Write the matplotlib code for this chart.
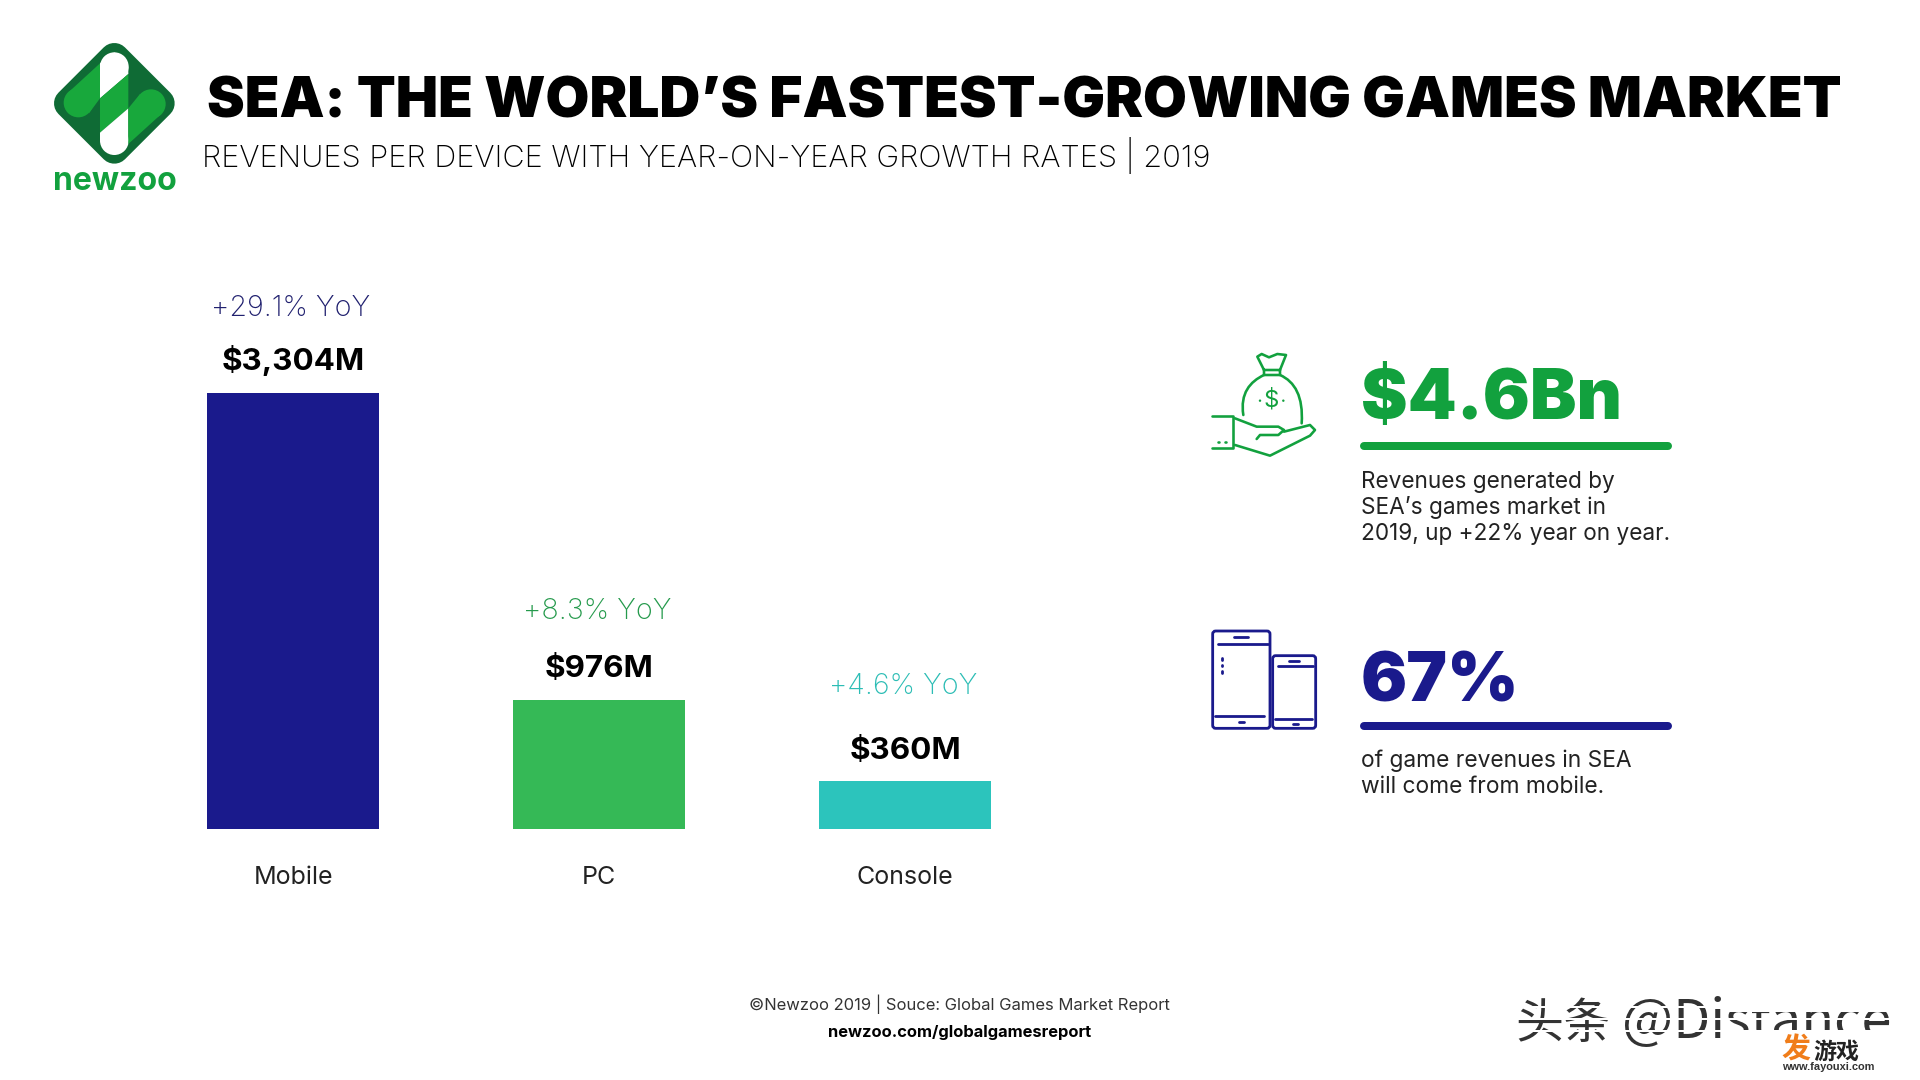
import numpy as np
import matplotlib
matplotlib.use("Agg")
import matplotlib.pyplot as plt
from matplotlib.patches import Polygon, Circle, FancyBboxPatch, PathPatch, Rectangle
from matplotlib.path import Path

categories = ["Mobile", "PC", "Console"]
revenues = [3304, 976, 360]
revenue_labels = ["$3,304M", "$976M", "$360M"]
yoy_labels = ["+29.1% YoY", "+8.3% YoY", "+4.6% YoY"]

NAVY = "#1a1a8c"
GREEN = "#35b956"
TEAL = "#2cc4bc"
BRIGHT = "#12a13e"
FONT = "Inter"
BAR_COLORS = [NAVY, GREEN, TEAL]
YOY_COLORS = ["#20206f", "#259a4c", "#2cbdb5"]
YOY_GAPS = [85, 89, 95]
VALUE_GAPS = [33, 31, 30]

W, H = 1920, 1080
plt.rcParams["font.family"] = [FONT, "DejaVu Sans"]
fig = plt.figure(figsize=(W / 100, H / 100), dpi=100, facecolor="white")

# pixel canvas for everything that is not the bars
canvas = fig.add_axes([0, 0, 1, 1])
canvas.set_xlim(0, W)
canvas.set_ylim(H, 0)
canvas.axis("off")


def fs(px):
    return px * 0.72


def put(x, y, s, size, weight="normal", color="black", ha="left", va="baseline", **kw):
    return canvas.text(x, y, s, fontsize=fs(size), fontweight=weight, color=color, ha=ha, va=va, **kw)


# --- bars ---
left, right, top, bottom = 100, 1120, 393, 829
ax = fig.add_axes([left / W, 1 - bottom / H, (right - left) / W, (bottom - top) / H])
ax.patch.set_alpha(0)
x = np.arange(len(categories))
bars = ax.bar(x, revenues, width=0.565, color=BAR_COLORS)
ax.set_xlim((left - 293) / 306, (right - 293) / 306)
ax.set_ylim(0, max(revenues))
for s in ax.spines.values():
    s.set_visible(False)
ax.set_yticks([])
ax.set_xticks(x, categories, fontsize=fs(25))
ax.tick_params(axis="x", length=0, pad=27, colors="#222222")
for i, bar in enumerate(bars):
    ax.annotate(revenue_labels[i], (bar.get_x() + bar.get_width() / 2, bar.get_height()),
                xytext=(0, VALUE_GAPS[i] * 0.72), textcoords="offset points", ha="center", va="center",
                fontsize=fs(31.4), fontweight="bold", color="black", annotation_clip=False)
    ax.annotate(yoy_labels[i], (bar.get_x() + bar.get_width() / 2, bar.get_height()),
                xytext=(-1.5, YOY_GAPS[i] * 0.72), textcoords="offset points", ha="center", va="center",
                fontsize=fs(28.6), fontweight="light", color=YOY_COLORS[i], annotation_clip=False)

# --- header ---
put(207, 117, "SEA: THE WORLD’S FASTEST-GROWING GAMES MARKET", 56.7, weight="black")
put(202, 167, "REVENUES PER DEVICE WITH YEAR-ON-YEAR GROWTH RATES | 2019", 30.7, weight="light", color="#000000")


def lz(pts):
    return [(a / 3, b / 3) for a, b in pts]


DARK = "#0f6b35"
LIGHT = "#18a83c"
canvas.add_patch(Polygon(lz([(343, 174), (479, 310), (343, 446), (207, 310)]), closed=True,
                         fc=DARK, ec=DARK, lw=21.6, joinstyle="round"))
canvas.add_patch(Polygon(lz([(300, 190), (204, 278), (267, 340), (300, 295)]), closed=True, fc=LIGHT, ec="none"))
canvas.add_patch(Circle((235 / 3, 308 / 3), 44 / 3, fc=LIGHT, ec="none"))
canvas.add_patch(Polygon(lz([(300, 190), (300, 295), (385, 222), (385, 200), (343, 157)]), closed=True, fc="white", ec="none"))
canvas.add_patch(Circle((343 / 3, 200 / 3), 43 / 3, fc="white", ec="none"))
canvas.add_patch(Polygon(lz([(300, 295), (385, 222), (385, 325), (300, 398)]), closed=True, fc=LIGHT, ec="none"))
canvas.add_patch(Polygon(lz([(385, 325), (300, 398), (300, 422), (343, 465), (385, 422)]), closed=True, fc="white", ec="none"))
canvas.add_patch(Circle((343 / 3, 422 / 3), 43 / 3, fc="white", ec="none"))
canvas.add_patch(Polygon(lz([(385, 325), (420, 282), (484, 342), (385, 432)]), closed=True, fc=LIGHT, ec="none"))
canvas.add_patch(Circle((453 / 3, 312 / 3), 44 / 3, fc=LIGHT, ec="none"))
put(53, 190, "newzoo", 32, weight="bold", color=BRIGHT)


def z(px, py):
    return (1200 + px / 3, 340 + py / 3)


def trace(pts, color, lw=2.6, closed=False):
    xy = np.array([z(a, b) for a, b in pts])
    if closed:
        xy = np.vstack([xy, xy[0]])
    canvas.plot(xy[:, 0], xy[:, 1], color=color, lw=lw * 0.72, solid_capstyle="round", solid_joinstyle="round")


def curve(pts, color, lw=2.6):
    verts = [z(a, b) for a, b in pts]
    codes = [Path.MOVETO] + [Path.CURVE4] * (len(verts) - 1)
    canvas.add_patch(PathPatch(Path(verts, codes), fc="none", ec=color, lw=lw * 0.72, capstyle="round"))


trace([(192, 90), (172, 50), (185, 42), (207, 52), (232, 42), (258, 45), (240, 90), (192, 90), (192, 105), (240, 105), (240, 90)], BRIGHT)
curve([(192, 105), (150, 125), (120, 160), (130, 225)], BRIGHT)
curve([(240, 105), (285, 125), (310, 170), (305, 250)], BRIGHT)
put(1271, 400, "$", 24, color=BRIGHT, ha="center", va="center")
for px in (180, 250):
    canvas.add_patch(Circle(z(px, 182), 1.2, fc=BRIGHT, ec="none"))
trace([(35, 227), (100, 227), (100, 325), (35, 325)], BRIGHT)
trace([(105, 235), (170, 260), (235, 260), (252, 270), (235, 285), (180, 285), (170, 297)], BRIGHT)
trace([(252, 275), (330, 255), (345, 270), (330, 287), (210, 347), (105, 315)], BRIGHT)
trace([(55, 305), (58, 305)], BRIGHT)
trace([(75, 305), (78, 305)], BRIGHT)

for x0, y0, x1, y1 in [(38, 873, 210, 1165), (218, 947, 347, 1165)]:
    a, b = z(x0, y0), z(x1, y1)
    canvas.add_patch(FancyBboxPatch(a, b[0] - a[0], b[1] - a[1], boxstyle="round,pad=0,rounding_size=3",
                                    fc="none", ec=NAVY, lw=2.8 * 0.72))
for seg in [[(55, 912), (205, 912)], [(45, 1127), (192, 1127)], [(103, 891), (145, 891)], [(116, 1147), (132, 1147)],
            [(235, 977), (340, 977)], [(225, 1136), (335, 1136)], [(268, 962), (298, 962)], [(279, 1152), (294, 1152)],
            [(67, 955), (67, 960)], [(67, 975), (67, 979)], [(67, 993), (67, 998)]]:
    trace(seg, NAVY, lw=2.8)

# --- right column text ---
put(1361, 419, "$4.6Bn", 70, weight="black", color=BRIGHT)
canvas.plot([1364, 1668], [446, 446], color=BRIGHT, lw=8 * 0.72, solid_capstyle="round")
for yy, line in zip([488, 514, 540], ["Revenues generated by", "SEA’s games market in", "2019, up +22% year on year."]):
    put(1361, yy, line, 22.6, color="#222222")
put(1361, 702, "67%", 68.5, weight="black", color=NAVY)
canvas.plot([1364, 1668], [726, 726], color=NAVY, lw=8 * 0.72, solid_capstyle="round")
for yy, line in zip([767, 793], ["of game revenues in SEA", "will come from mobile."]):
    put(1361, yy, line, 22.8, color="#222222")

# --- footer ---
put(959, 1004, "©Newzoo 2019 | Souce: Global Games Market Report", 16.6, color="#333333", ha="center", va="center")
put(960, 1032, "newzoo.com/globalgamesreport", 16.5, weight="bold", ha="center", va="center")

# --- watermark, the source has it sliced by white stripes ---
cjk = ["Noto Sans CJK SC", "DejaVu Sans"]
put(1515, 1038, "头条", 48, color="#333333", family=cjk)
put(1622, 1038, "@Distance", 54, color="#333333", family=cjk)
for yy in (1006, 1018, 1030):
    canvas.add_patch(Rectangle((1510, yy), 380, 1.6, fc="white", ec="none", zorder=3))
canvas.add_patch(Rectangle((1723, 985), 180, 27, fc="white", ec="none", zorder=3))
canvas.add_patch(Rectangle((1723, 1030), 180, 45, fc="white", ec="none", zorder=3))
put(1781, 1059, "发", 29, weight="bold", color="#f07d1a", family=cjk, zorder=4)
put(1813, 1059, "游戏", 23, weight="bold", color="#222222", family=cjk, zorder=4)
put(1782, 1070, "www.fayouxi.com", 11, weight="bold", color="#333333", family="Liberation Sans", zorder=4)

fig.savefig("out.png", dpi=100)
